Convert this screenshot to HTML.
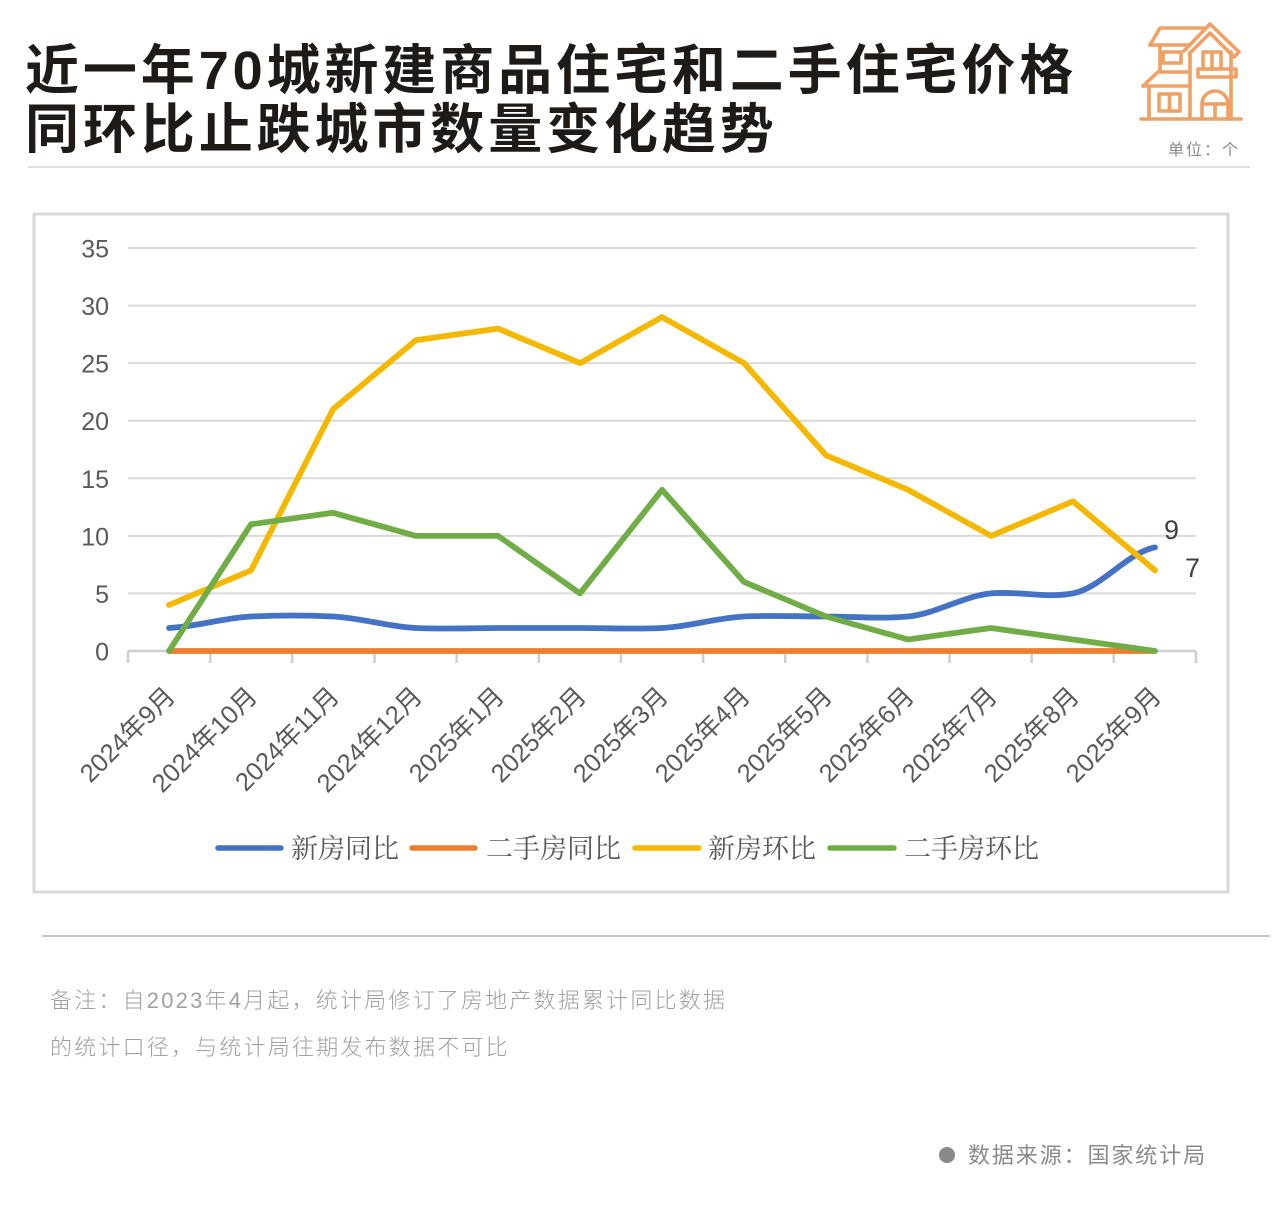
<!DOCTYPE html>
<html>
<head>
<meta charset="utf-8">
<style>
html,body{margin:0;padding:0;background:#fff;}
svg{display:block;}
</style>
</head>
<body>
<svg width="1280" height="1227" viewBox="0 0 1280 1227" xmlns="http://www.w3.org/2000/svg">
  <rect x="0" y="0" width="1280" height="1227" fill="#ffffff"/>

  <!-- Title -->
  <g font-family="'Liberation Sans','Noto Sans CJK SC',sans-serif" font-weight="700" font-size="54" fill="#1e1a18" letter-spacing="3.9">
    <text x="25" y="89">近一年70城新建商品住宅和二手住宅价格</text>
    <text x="25" y="148">同环比止跌城市数量变化趋势</text>
  </g>
  <line x1="28" y1="167" x2="1250" y2="167" stroke="#d6d6d6" stroke-width="1.5"/>

  <!-- House icon -->
  <g fill="none" stroke="#EFA064" stroke-width="3.6" stroke-linejoin="round" stroke-linecap="round">
    <line x1="1141" y1="119" x2="1241" y2="119"/>
    <polyline points="1184,51 1210,24 1239,52 1234,57 1210,33 1190,53"/>
    <line x1="1190" y1="53" x2="1190" y2="119"/>
    <line x1="1231" y1="52" x2="1231" y2="119"/>
    <rect x="1203" y="52" width="18" height="17"/>
    <line x1="1212" y1="52" x2="1212" y2="69"/>
    <rect x="1198" y="69" width="38" height="8"/>
    <path d="M1202,119 L1202,104 A13,13 0 0 1 1228,104 L1228,119"/>
    <line x1="1202" y1="104" x2="1228" y2="104"/>
    <line x1="1215" y1="104" x2="1215" y2="119"/>
    <polyline points="1150,45 1160,28 1205,28"/>
    <line x1="1150" y1="45" x2="1188" y2="45"/>
    <line x1="1160" y1="45" x2="1160" y2="72"/>
    <rect x="1163" y="52" width="18" height="11"/>
    <polyline points="1143,86 1158,72 1190,72"/>
    <line x1="1143" y1="86" x2="1190" y2="86"/>
    <line x1="1149" y1="86" x2="1149" y2="119"/>
    <rect x="1159" y="94" width="21" height="17"/>
    <line x1="1169.5" y1="94" x2="1169.5" y2="111"/>
  </g>
  <text x="1168" y="155" font-family="'Liberation Sans','Noto Sans CJK SC',sans-serif" font-size="16" fill="#8a8a8a" letter-spacing="2">单位：个</text>

  <!-- Chart frame -->
  <rect x="34" y="214" width="1194" height="678" fill="#ffffff" stroke="#d9d9d9" stroke-width="3"/>

  <!-- Gridlines -->
  <g stroke="#d9d9d9" stroke-width="2">
    <line x1="128" y1="248" x2="1196" y2="248"/>
    <line x1="128" y1="305.6" x2="1196" y2="305.6"/>
    <line x1="128" y1="363.1" x2="1196" y2="363.1"/>
    <line x1="128" y1="420.7" x2="1196" y2="420.7"/>
    <line x1="128" y1="478.3" x2="1196" y2="478.3"/>
    <line x1="128" y1="535.9" x2="1196" y2="535.9"/>
    <line x1="128" y1="593.4" x2="1196" y2="593.4"/>
  </g>
  <g stroke="#cfcfcf" stroke-width="2.5">
    <line x1="128" y1="651" x2="1196" y2="651"/>
    <line x1="128" y1="651" x2="128" y2="663"/>
    <line x1="210.2" y1="651" x2="210.2" y2="663"/>
    <line x1="292.3" y1="651" x2="292.3" y2="663"/>
    <line x1="374.5" y1="651" x2="374.5" y2="663"/>
    <line x1="456.6" y1="651" x2="456.6" y2="663"/>
    <line x1="538.8" y1="651" x2="538.8" y2="663"/>
    <line x1="620.9" y1="651" x2="620.9" y2="663"/>
    <line x1="703.1" y1="651" x2="703.1" y2="663"/>
    <line x1="785.2" y1="651" x2="785.2" y2="663"/>
    <line x1="867.4" y1="651" x2="867.4" y2="663"/>
    <line x1="949.5" y1="651" x2="949.5" y2="663"/>
    <line x1="1031.7" y1="651" x2="1031.7" y2="663"/>
    <line x1="1113.8" y1="651" x2="1113.8" y2="663"/>
    <line x1="1196" y1="651" x2="1196" y2="663"/>
  </g>

  <!-- Y labels -->
  <g font-family="'Liberation Sans',sans-serif" font-size="25" fill="#595959" text-anchor="end">
    <text x="109" y="257.5">35</text>
    <text x="109" y="315">30</text>
    <text x="109" y="372.6">25</text>
    <text x="109" y="430.2">20</text>
    <text x="109" y="487.8">15</text>
    <text x="109" y="545.4">10</text>
    <text x="109" y="603">5</text>
    <text x="109" y="660.5">0</text>
  </g>

  <!-- X labels -->
  <g font-family="'Liberation Sans','Noto Sans CJK SC',sans-serif" font-size="25.5" fill="#595959" text-anchor="end" dominant-baseline="central">
    <text transform="translate(171,692) rotate(-45)">2024年9月</text>
    <text transform="translate(253,692) rotate(-45)">2024年10月</text>
    <text transform="translate(335,692) rotate(-45)">2024年11月</text>
    <text transform="translate(418,692) rotate(-45)">2024年12月</text>
    <text transform="translate(500,692) rotate(-45)">2025年1月</text>
    <text transform="translate(582,692) rotate(-45)">2025年2月</text>
    <text transform="translate(664,692) rotate(-45)">2025年3月</text>
    <text transform="translate(746,692) rotate(-45)">2025年4月</text>
    <text transform="translate(828,692) rotate(-45)">2025年5月</text>
    <text transform="translate(910,692) rotate(-45)">2025年6月</text>
    <text transform="translate(993,692) rotate(-45)">2025年7月</text>
    <text transform="translate(1075,692) rotate(-45)">2025年8月</text>
    <text transform="translate(1157,692) rotate(-45)">2025年9月</text>
  </g>

  <!-- Series -->
  <g fill="none" stroke-width="5.8" stroke-linejoin="round" stroke-linecap="round">
    <path stroke="#4472C4" d="M169,628 C196.4,626.7 223.6,617.8 251,616.5 C278.4,615.2 305.6,615.2 333,616.5 C360.4,617.8 388.6,626.7 416,628 C443.4,629.3 470.6,628 498,628 C525.4,628 552.6,628 580,628 C607.4,628 634.6,629.3 662,628 C689.4,626.7 716.6,617.8 744,616.5 C771.4,615.2 798.6,616.5 826,616.5 C853.4,616.5 880.6,619.07 908,616.5 C935.4,613.93 963.6,595.97 991,593.4 C1018.4,590.83 1045.6,598.51 1073,593.4 C1100.4,588.29 1127.6,552.51 1155,547.4"/>
    <polyline stroke="#ED7D31" stroke-linecap="butt" points="169,651 1155,651"/>
    <polyline stroke="#F5B800" points="169,605 251,570.4 333,409.2 416,340.1 498,328.6 580,363.1 662,317.1 744,363.1 826,455.3 908,489.8 991,535.9 1073,501.3 1155,570.4"/>
    <polyline stroke="#70AD47" points="169,651 251,524.3 333,512.8 416,535.9 498,535.9 580,593.4 662,489.8 744,581.9 826,616.5 908,639.5 991,628 1073,639.5 1155,651"/>
  </g>

  <!-- data labels -->
  <g font-family="'Liberation Sans',sans-serif" font-size="27" fill="#404040">
    <text x="1164" y="539">9</text>
    <text x="1185" y="577">7</text>
  </g>

  <!-- Legend -->
  <g stroke-width="5.5" stroke-linecap="round">
    <line x1="218" y1="848" x2="281" y2="848" stroke="#4472C4"/>
    <line x1="412" y1="848" x2="475" y2="848" stroke="#ED7D31"/>
    <line x1="635" y1="848" x2="699" y2="848" stroke="#F5B800"/>
    <line x1="830" y1="848" x2="894" y2="848" stroke="#70AD47"/>
  </g>
  <g font-family="'Liberation Serif','Noto Serif CJK SC',serif" font-size="27" fill="#595959">
    <text x="291" y="858">新房同比</text>
    <text x="486" y="858">二手房同比</text>
    <text x="708" y="858">新房环比</text>
    <text x="904" y="858">二手房环比</text>
  </g>

  <line x1="42" y1="936" x2="1270" y2="936" stroke="#c8c8c8" stroke-width="2"/>

  <!-- Notes -->
  <g font-family="'Liberation Sans','Noto Sans CJK SC',sans-serif" font-size="22" fill="#a0a0a0" font-weight="300" letter-spacing="2.2">
    <text x="50" y="1008">备注：自2023年4月起，统计局修订了房地产数据累计同比数据</text>
    <text x="50" y="1055">的统计口径，与统计局往期发布数据不可比</text>
  </g>

  <circle cx="947" cy="1155" r="8" fill="#8a8a8a"/>
  <text x="968" y="1163" font-family="'Liberation Sans','Noto Sans CJK SC',sans-serif" font-size="22" fill="#8a8a8a" letter-spacing="1.9">数据来源：国家统计局</text>
</svg>
</body>
</html>
